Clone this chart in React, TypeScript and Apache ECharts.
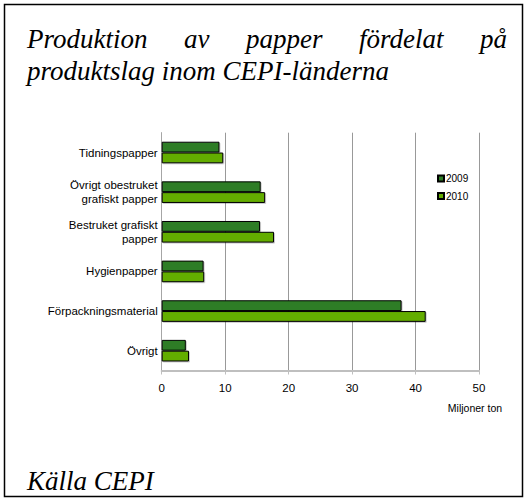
import React, { useEffect, useRef } from "react";
import * as echarts from "echarts";

const categories = [
  "Tidningspapper",
  "Övrigt obestruket\ngrafiskt papper",
  "Bestruket grafiskt\npapper",
  "Hygienpapper",
  "Förpackningsmaterial",
  "Övrigt",
];
const values2009 = [9.1, 15.6, 15.5, 6.6, 37.8, 3.8];
const values2010 = [9.7, 16.3, 17.7, 6.7, 41.6, 4.3];
const seriesNames = ["2009", "2010"];
const titleLine1Words = ["Produktion", "av", "papper", "fördelat", "på"];
const titleLine2 = "produktslag inom CEPI-länderna";
const sourceText = "Källa CEPI";
const unitText = "Miljoner ton";

const SERIF = "serif";
const SANS = "Liberation Sans";

export default function App() {
  const ref = useRef<HTMLDivElement>(null);
  useEffect(() => {
    if (!ref.current) return;
    document.body.style.margin = "0";
    const chart = echarts.init(ref.current, null, { renderer: "svg" });
    const fontSize = 27;
    const left = 27;
    const right = 507;
    const cnv = document.createElement("canvas");
    const ctx = cnv.getContext("2d")!;
    ctx.font = `italic ${fontSize}px ${SERIF}`;
    const widths = titleLine1Words.map((w) => ctx.measureText(w).width);
    const total = widths.reduce((a, b) => a + b, 0);
    const gap = (right - left - total) / (titleLine1Words.length - 1);
    const xs: number[] = [];
    let cx = left;
    widths.forEach((w) => {
      xs.push(cx);
      cx += w + gap;
    });

    const barStyle = (color: string) => ({
      color,
      borderColor: "#000",
      borderWidth: 1,
      shadowColor: "rgba(0,0,0,0.2)",
      shadowOffsetX: 1,
      shadowOffsetY: 1,
      shadowBlur: 0,
    });
    const serifText = (text: string, x: number, y: number, align = "left") => ({
      type: "text",
      x,
      y,
      style: {
        text,
        fill: "#000",
        fontFamily: SERIF,
        fontStyle: "italic",
        fontSize,
        align,
        verticalAlign: "middle",
      },
    });
    chart.setOption({
      animation: false,
      backgroundColor: "#fff",
      grid: { left: 161.7, right: 48, top: 132.7, bottom: 130.5, containLabel: false },
      legend: {
        orient: "vertical",
        left: 432,
        top: 167.5,
        itemWidth: 6,
        itemHeight: 6,
        itemGap: 5.5,
        icon: "rect",
        textStyle: {
          fontSize: 10,
          lineHeight: 12,
          color: "#000",
          fontFamily: SANS,
          padding: [0, 0, 0, -3],
        },
        data: seriesNames,
      },
      xAxis: {
        type: "value",
        min: 0,
        max: 50,
        interval: 10,
        axisLine: { show: true, lineStyle: { color: "#BFBFBF", width: 2 } },
        axisTick: { show: true, length: 4, lineStyle: { color: "#BFBFBF", width: 1 } },
        axisLabel: { color: "#000", fontSize: 11.5, margin: 11, fontFamily: SANS },
        splitLine: { show: true, lineStyle: { color: "#999", width: 1 } },
      },
      yAxis: {
        type: "category",
        inverse: true,
        data: categories,
        axisLine: { show: true, lineStyle: { color: "#A6A6A6", width: 1 } },
        axisTick: { show: false },
        axisLabel: {
          color: "#000",
          fontSize: 11.5,
          margin: 4,
          lineHeight: 14,
          align: "right",
          fontFamily: SANS,
        },
        splitLine: { show: false },
      },
      series: [
        {
          name: seriesNames[0],
          type: "bar",
          data: values2009,
          barWidth: 10.8,
          barGap: "0%",
          itemStyle: barStyle("#2F7D25"),
        },
        {
          name: seriesNames[1],
          type: "bar",
          data: values2010,
          barWidth: 10.8,
          barGap: "0%",
          itemStyle: barStyle("#64AD00"),
        },
      ],
      graphic: [
        {
          type: "rect",
          shape: { x: 4.5, y: 4.5, width: 518, height: 492 },
          style: { fill: "none", stroke: "#000", lineWidth: 1.5 },
          silent: true,
        },
        ...titleLine1Words.map((w, i) =>
          i === titleLine1Words.length - 1
            ? serifText(w, right, 39, "right")
            : serifText(w, xs[i], 39)
        ),
        serifText(titleLine2, left, 71),
        serifText(sourceText, left, 481),
        {
          type: "text",
          x: 475,
          y: 408,
          style: {
            text: unitText,
            fontFamily: SANS,
            fontSize: 10.5,
            fill: "#000",
            align: "center",
            verticalAlign: "middle",
          },
        },
      ],
    });
    return () => chart.dispose();
  }, []);
  return <div ref={ref} style={{ width: 527, height: 501, background: "#fff" }} />;
}
